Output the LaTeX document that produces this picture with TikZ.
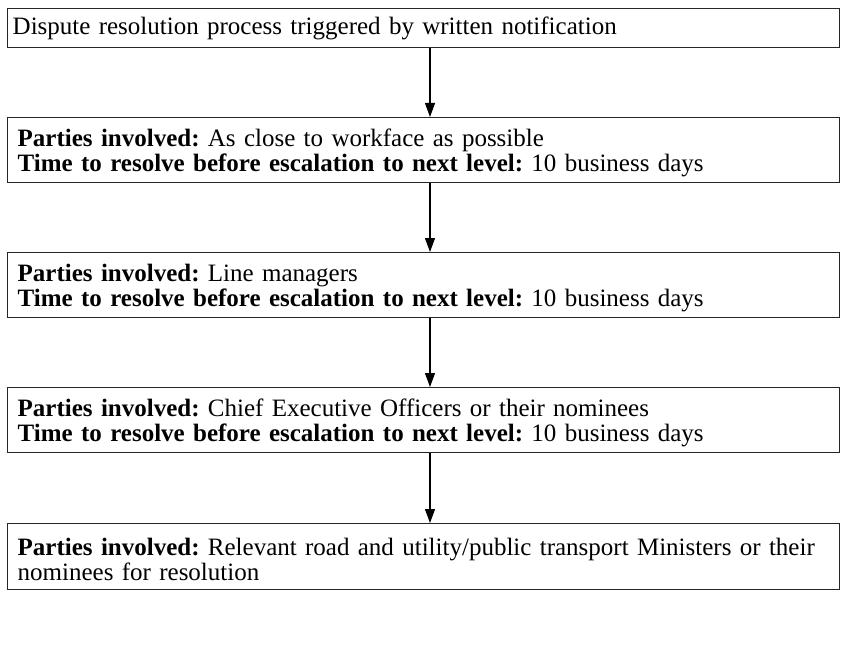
\documentclass[tikz,border=0pt]{standalone}
\usepackage{fontspec}
\setmainfont{Liberation Serif}
\usetikzlibrary{arrows.meta}

\begin{document}
\frenchspacing
\begin{tikzpicture}[x=1pt,y=-1pt,
  stagebox/.style={draw=black!85, line width=1.4pt, rectangle, anchor=north west,
    minimum width=832pt, text width=812pt, inner xsep=10pt, inner ysep=0pt,
    align=left, font=\fontsize{25}{25}\selectfont},
  twoline/.style={stagebox, minimum height=65pt},
  flow/.style={draw=black, line width=1.1pt,
    -{Triangle[length=14pt,width=10pt]}}
]
\useasboundingbox (0,0) rectangle (843,666);

\node[stagebox, minimum height=39pt, inner xsep=5pt, text width=822pt] (s1) at (7,8)
  {Dispute resolution process triggered by written notification};

\node[twoline] (s2) at (7,117)
  {\rule{0pt}{22pt}\textbf{Parties involved:} As close to workface as possible\\
   \textbf{Time to resolve before escalation to next level:} 10 business days};

\node[twoline] (s3) at (7,252)
  {\rule{0pt}{22pt}\textbf{Parties involved:} Line managers\\
   \textbf{Time to resolve before escalation to next level:} 10 business days};

\node[twoline] (s4) at (7,387)
  {\rule{0pt}{22pt}\textbf{Parties involved:} Chief Executive Officers or their nominees\\
   \textbf{Time to resolve before escalation to next level:} 10 business days};

\node[twoline, minimum height=66pt] (s5) at (7,523)
  {\rule{0pt}{22pt}\textbf{Parties involved:} Relevant road and utility/public transport Ministers or their\\
   nominees for resolution};

\coordinate (axis) at (430,0);
\draw[flow] (s1.south -| axis) -- (s2.north -| axis);
\draw[flow] (s2.south -| axis) -- (s3.north -| axis);
\draw[flow] (s3.south -| axis) -- (s4.north -| axis);
\draw[flow] (s4.south -| axis) -- (s5.north -| axis);
\end{tikzpicture}
\end{document}
